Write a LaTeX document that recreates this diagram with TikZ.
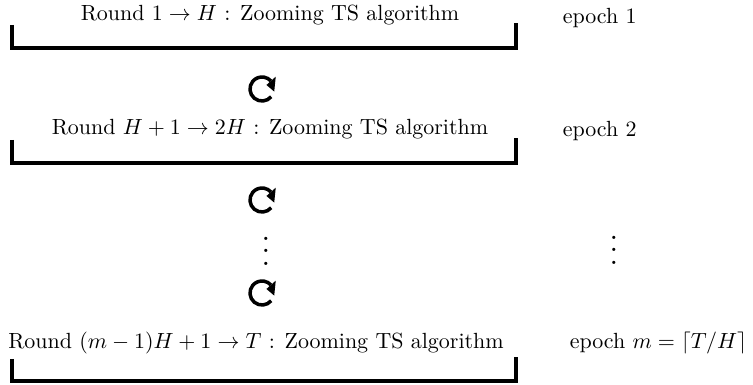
\documentclass[tikz,border=0pt]{standalone}
\tikzset{
  bracketline/.style={line width=1.6pt},
  loopline/.style={line width=1.6pt},
}
\newcommand{\loopmark}[1]{%
  \draw[loopline] ([shift={(-40:12)}]#1) arc[start angle=-40,end angle=-318,radius=12];
  \fill ([shift={(42:6)}]#1) -- ([shift={(42:18.5)}]#1) -- ([shift={(-12:12.5)}]#1) -- cycle;
}
\begin{document}
\begin{tikzpicture}[x=0.016cm,y=0.016cm]
  \useasboundingbox (0,0) rectangle (753,385);
  % epoch 1
  \node (round1) at (270,370) {Round $1\rightarrow H$ : Zooming TS algorithm};
  \node[anchor=west] (epoch1) at (555,367) {epoch 1};
  \draw[bracketline] (12,360) -- (12,337) -- (516,337) -- (516,362);
  \coordinate (loop1) at (262,296);
  \loopmark{loop1}
  % epoch 2
  \node (round2) at (270,256) {Round $H+1\rightarrow 2H$ : Zooming TS algorithm};
  \node[anchor=west] (epoch2) at (555,254) {epoch 2};
  \draw[bracketline] (12,245) -- (12,222) -- (516,222) -- (516,247);
  \coordinate (loop2) at (262,185);
  \loopmark{loop2}
  % dots
  \node[scale=1.4,inner sep=0pt] (dotsl) at (266,143) {$\vdots$};
  \node[scale=1.4,inner sep=0pt] (dotsr) at (614,144) {$\vdots$};
  \coordinate (loop3) at (262,92);
  \loopmark{loop3}
  % epoch m
  \node (round3) at (256,42) {Round $(m-1)H+1\rightarrow T$ : Zooming TS algorithm};
  \node[anchor=west] (epoch3) at (562,42) {epoch $m=\lceil T/H\rceil$};
  \draw[bracketline] (12,26) -- (12,4) -- (516,4) -- (516,28);
\end{tikzpicture}
\end{document}
